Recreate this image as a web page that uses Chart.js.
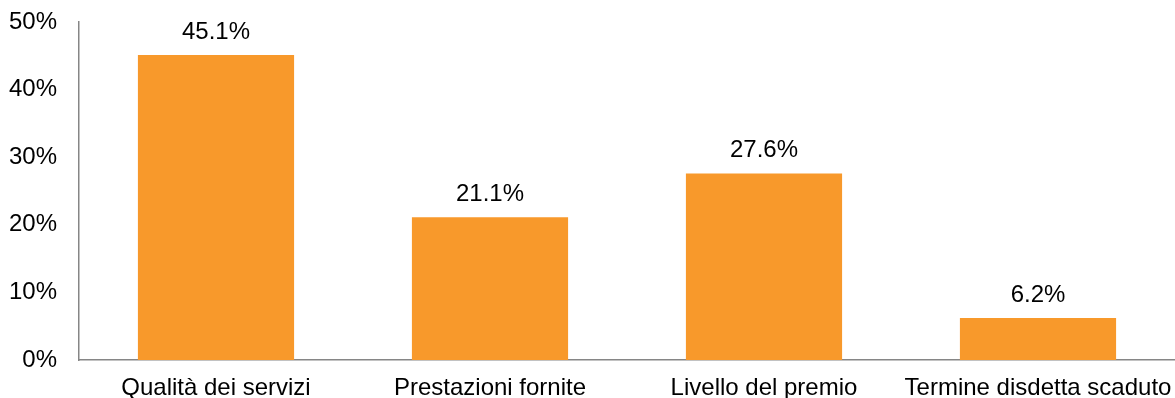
<!DOCTYPE html>
<html>
<head>
<meta charset="utf-8">
<script src="https://cdn.jsdelivr.net/npm/chart.js@4"></script>
<style>
  html, body { margin: 0; padding: 0; background: #fff; }
  #wrap { width: 1175px; height: 398px; }
</style>
</head>
<body>
<div id="wrap"><canvas id="motiviChart"></canvas></div>
<script>
const categories = ['Qualità dei servizi', 'Prestazioni fornite', 'Livello del premio', 'Termine disdetta scaduto'];
const shares = [45.1, 21.1, 27.6, 6.2];
const yTicks = [0, 10, 20, 30, 40, 50];

const barColor = '#F8992B';
const axisColor = '#868686';
const font = { family: 'Liberation Sans, Arial, sans-serif', size: 24 };

// value labels above each bar
const valueLabels = {
  id: 'valueLabels',
  afterDatasetsDraw(chart) {
    const ctx = chart.ctx;
    const meta = chart.getDatasetMeta(0);
    ctx.save();
    ctx.font = font.size + 'px ' + font.family;
    ctx.fillStyle = '#000';
    ctx.textAlign = 'center';
    ctx.textBaseline = 'alphabetic';
    meta.data.forEach((bar, i) => {
      ctx.fillText(shares[i].toFixed(1) + '%', bar.x, bar.y - 16);
    });
    ctx.restore();
  }
};

new Chart(document.getElementById('motiviChart'), {
  type: 'bar',
  data: {
    labels: categories,
    datasets: [{
      data: shares,
      backgroundColor: barColor,
      borderWidth: 0,
      categoryPercentage: 1,
      barPercentage: 0.57
    }]
  },
  options: {
    responsive: true,
    maintainAspectRatio: false,
    animation: false,
    layout: { padding: { top: 22, right: 0, left: 0, bottom: 0 } },
    plugins: {
      legend: { display: false },
      tooltip: { enabled: false }
    },
    scales: {
      x: {
        grid: { display: false, drawTicks: false },
        border: { display: true, color: axisColor, width: 1.5 },
        ticks: { color: '#000', font: font, padding: 14, maxRotation: 0, autoSkip: false },
        afterFit(scale) {
          scale.height = 38;
          scale.paddingLeft = 0;
          scale.paddingRight = 0;
        }
      },
      y: {
        min: 0,
        max: 50,
        afterBuildTicks(scale) { scale.ticks = yTicks.map(v => ({ value: v })); },
        grid: { display: false, drawTicks: false },
        border: { display: true, color: axisColor, width: 1.5 },
        ticks: { color: '#000', font: font, padding: 22, callback: v => v + '%' },
        afterFit(scale) {
          scale.width = 79;
          scale.paddingTop = 0;
          scale.paddingBottom = 0;
        }
      }
    }
  },
  plugins: [valueLabels]
});
</script>
</body>
</html>
